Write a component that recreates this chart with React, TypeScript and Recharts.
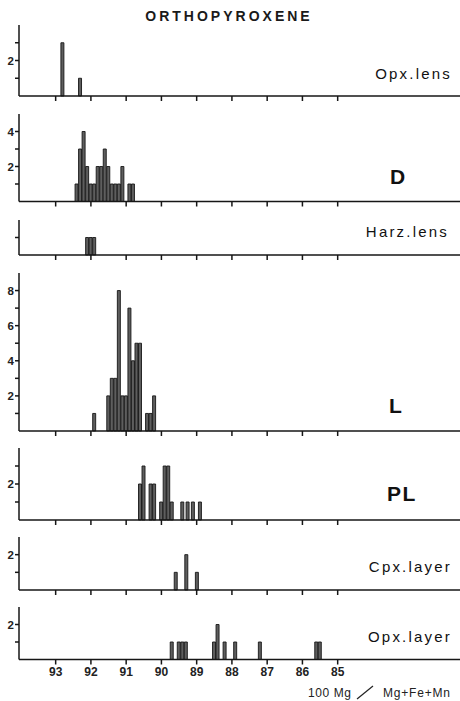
import { BarChart, Bar, XAxis, YAxis } from 'recharts';

const FONT = '"Liberation Sans", Arial, Helvetica, sans-serif';
const INK = '#161616';

// 100 Mg / (Mg+Fe+Mn), shared axis (runs high to low)
const X_TICKS = [93, 92, 91, 90, 89, 88, 87, 86, 85];
const X_DOMAIN: [number, number] = [81.53, 94.04];

const opxLensMg = [92.8, 92.3];
const opxLensN = [3, 1];

const dMg = [92.4, 92.3, 92.2, 92.1, 92.0, 91.9, 91.8, 91.7, 91.6, 91.5, 91.4, 91.3, 91.2, 91.1, 90.9, 90.8];
const dN = [1, 3, 4, 2, 1, 1, 2, 2, 3, 2, 1, 1, 1, 2, 1, 1];

const harzMg = [92.1, 92.0, 91.9];
const harzN = [1, 1, 1];

const lMg = [91.9, 91.5, 91.4, 91.3, 91.2, 91.1, 91.0, 90.9, 90.8, 90.7, 90.6, 90.4, 90.3, 90.2];
const lN = [1, 2, 3, 3, 8, 2, 2, 7, 4, 5, 5, 1, 1, 2];

const plMg = [90.6, 90.5, 90.3, 90.2, 90.0, 89.9, 89.8, 89.7, 89.4, 89.25, 89.1, 88.9];
const plN = [2, 3, 2, 2, 1, 3, 3, 1, 1, 1, 1, 1];

const cpxMg = [89.6, 89.3, 89.0];
const cpxN = [1, 2, 1];

const opxLayerMg = [89.7, 89.5, 89.4, 89.3, 88.5, 88.4, 88.2, 87.9, 87.2, 85.6, 85.5];
const opxLayerN = [1, 1, 1, 1, 1, 2, 1, 1, 1, 1, 1];

type PanelProps = {
  top: number;
  height: number;
  max: number;
  yTicks: number[];
  mg: number[];
  n: number[];
  last?: boolean;
};

function Panel({ top, height, max, yTicks, mg, n, last }: PanelProps) {
  const data = mg.map((x, i) => ({ x, n: n[i] }));
  const axisH = last ? 22 : 7;
  return (
    <div style={{ position: 'absolute', left: 0, top }}>
      <BarChart width={460} height={height + axisH} data={data} margin={{ top: 0, right: 0, bottom: 0, left: 0 }}>
        <XAxis
          type="number"
          dataKey="x"
          domain={X_DOMAIN}
          reversed
          ticks={X_TICKS}
          interval={0}
          height={axisH}
          tickSize={5}
          tickMargin={3}
          stroke={INK}
          strokeWidth={1.5}
          tickFormatter={(v: number) => (last ? String(v) : '')}
          tick={{ fontSize: 12, fontWeight: 700, fill: '#222', fontFamily: FONT }}
        />
        <YAxis
          yAxisId="l"
          width={19}
          domain={[0, max]}
          ticks={yTicks}
          interval={0}
          tickSize={4}
          tickMargin={1}
          stroke={INK}
          strokeWidth={1.5}
          tickFormatter={(v: number) => (v % 2 === 0 ? String(v) : '')}
          tick={{ fontSize: 11.5, fontWeight: 700, fill: '#222', fontFamily: FONT }}
        />
        <YAxis
          yAxisId="r"
          orientation="right"
          mirror
          width={0}
          domain={[0, max]}
          ticks={yTicks}
          interval={0}
          tickSize={3}
          stroke={INK}
          strokeWidth={1.5}
          tick={false}
        />
        <Bar yAxisId="l" dataKey="n" barSize={3} fill="#5e5e5e" stroke={INK} strokeWidth={0.9} isAnimationActive={false} />
      </BarChart>
    </div>
  );
}

export default function App() {
  const small = { fontSize: 15, letterSpacing: 2.2, fill: '#111', fontFamily: FONT, textAnchor: 'end' as const };
  const big = { fontSize: 21, fontWeight: 700, fill: '#111', fontFamily: FONT };
  return (
    <div style={{ position: 'absolute', left: 0, top: 0, width: 460, height: 701, overflow: 'hidden', background: '#fff' }}>
      <Panel top={25} height={71} max={4} yTicks={[1, 2, 3]} mg={opxLensMg} n={opxLensN} />
      <Panel top={114} height={87.5} max={5} yTicks={[1, 2, 3, 4]} mg={dMg} n={dN} />
      <Panel top={220} height={35} max={2} yTicks={[1]} mg={harzMg} n={harzN} />
      <Panel top={273} height={158} max={9} yTicks={[1, 2, 3, 4, 5, 6, 7, 8]} mg={lMg} n={lN} />
      <Panel top={447.5} height={72} max={4} yTicks={[1, 2, 3]} mg={plMg} n={plN} />
      <Panel top={537} height={53} max={3} yTicks={[1, 2]} mg={cpxMg} n={cpxN} />
      <Panel top={607} height={52.5} max={3} yTicks={[1, 2]} mg={opxLayerMg} n={opxLayerN} last />

      <svg width={460} height={701} style={{ position: 'absolute', left: 0, top: 0, pointerEvents: 'none' }}>
        <text x={229} y={21} textAnchor="middle" fontSize={14} fontWeight={600} letterSpacing={3} fill="#1a1a1a" fontFamily={FONT}>
          ORTHOPYROXENE
        </text>
        <text x={452} y={79} {...small}>Opx.lens</text>
        <text x={390} y={183.5} {...big}>D</text>
        <text x={449} y={236.5} {...small}>Harz.lens</text>
        <text x={389} y={413} {...big}>L</text>
        <text x={387} y={501} {...big} letterSpacing={1.5}>PL</text>
        <text x={452} y={571.5} {...small}>Cpx.layer</text>
        <text x={452} y={641.5} {...small}>Opx.layer</text>
        <text x={308} y={696.5} fontSize={12} letterSpacing={0.6} fill="#222" fontFamily={FONT}>100 Mg</text>
        <line x1={357} y1={699} x2={373} y2={686} stroke="#222" strokeWidth={1.2} />
        <text x={383} y={696.5} fontSize={12} letterSpacing={0.8} fill="#222" fontFamily={FONT}>Mg+Fe+Mn</text>
      </svg>
    </div>
  );
}
